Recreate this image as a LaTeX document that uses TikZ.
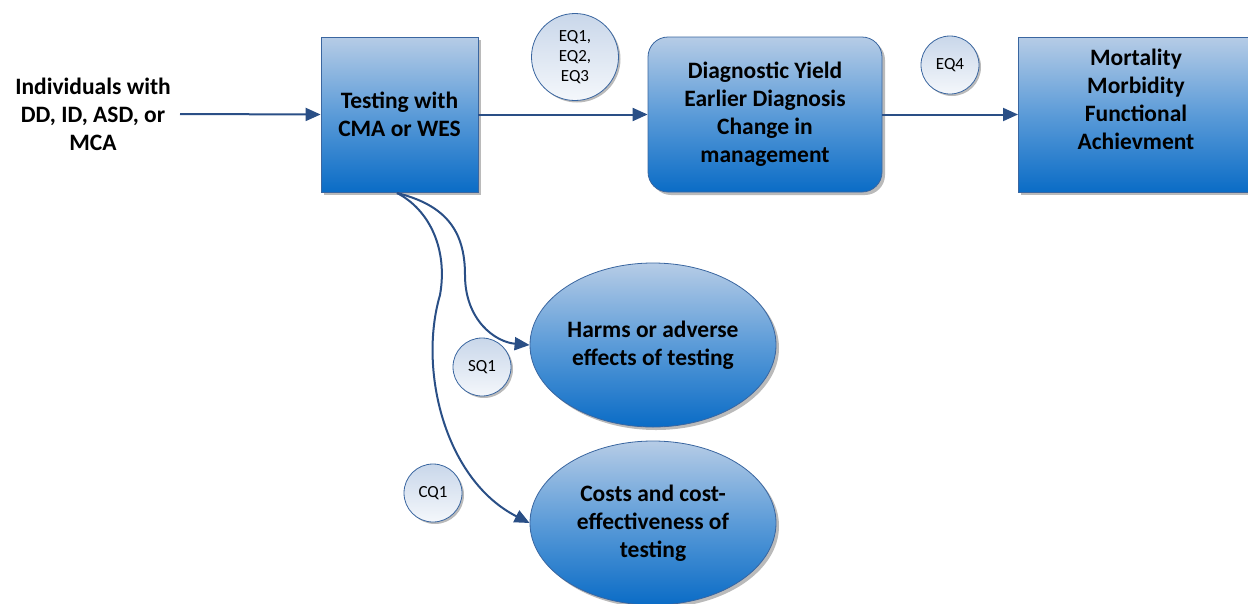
\documentclass[tikz,border=0pt]{standalone}
\usepackage{fontspec}
\setmainfont{Carlito}
\usetikzlibrary{shapes.geometric,arrows.meta,shadows}
\definecolor{lineblue}{HTML}{2A4F86}
\definecolor{topblue}{HTML}{B6CCE6}
\definecolor{midblue}{HTML}{5B9BD8}
\definecolor{botblue}{HTML}{0A6CC6}
\definecolor{edgeblue}{HTML}{3A66A0}
\definecolor{qtop}{HTML}{C9D7EA}
\definecolor{qbot}{HTML}{F4F7FB}
\tikzset{
  bigtext/.style={font=\bfseries\fontsize{23.5}{28}\selectfont, align=center},
  bluebox/.style={draw=edgeblue, line width=0.8pt, top color=topblue, bottom color=botblue, middle color=midblue,
    drop shadow={shadow xshift=3pt, shadow yshift=-3pt, fill=black!45, opacity=0.6},
    bigtext, inner sep=0pt},
  qcirc/.style={circle, draw=edgeblue, line width=0.8pt, top color=qtop, bottom color=qbot,
    drop shadow={shadow xshift=2pt, shadow yshift=-2pt, fill=black!45, opacity=0.6},
    font=\fontsize{17}{20}\selectfont, align=center, inner sep=0pt},
  conn/.style={draw=lineblue, line width=2pt, arrows={-Triangle[length=15pt,width=13pt]}},
}
\begin{document}
\begin{tikzpicture}[x=1pt,y=-1pt]
\useasboundingbox (0,0) rectangle (1248,603);
\node[bigtext] (ind) at (93,114) {Individuals with\\DD, ID, ASD, or\\MCA};
\node[bluebox, minimum width=157pt, minimum height=155pt] (test) at (399.5,114.5) {Testing with\\CMA or WES};
\node[bluebox, rounded corners=20pt, minimum width=234pt, minimum height=155pt] (diag) at (765,114.5) {Diagnostic Yield\\Earlier Diagnosis\\Change in\\management};
\node[bluebox, minimum width=236pt, minimum height=155pt, anchor=west] (mort) at (1018,114.5) {};
\node[bigtext] (morttext) at (1136,99) {Mortality\\Morbidity\\Functional\\Achievment};
\node[bluebox, ellipse, minimum width=246pt, minimum height=164pt] (harm) at (653,345) {Harms or adverse\\effects of testing};
\node[bluebox, ellipse, minimum width=246pt, minimum height=164pt] (cost) at (653,523) {Costs and cost-\\effectiveness of\\testing};
\node[qcirc, minimum size=87pt] (eq13) at (575,57) {EQ1,\\EQ2,\\EQ3};
\node[qcirc, minimum size=58pt] (eq4) at (950,65) {EQ4};
\node[qcirc, minimum size=58pt] (sq1) at (482,367) {SQ1};
\node[qcirc, minimum size=58pt] (cq1) at (433,493) {CQ1};
\coordinate (start) at (180,114);
\coordinate (tb) at (397,193);
\draw[conn] (start) -- (test.west);
\draw[conn] (test.east) -- (diag.west);
\draw[conn] (diag.east) -- (mort.west);
\draw[conn] (tb) .. controls (445,205) and (465,230) .. (465,275) .. controls (465,320) and (495,342) .. (harm.west);
\draw[conn] (tb) .. controls (430,210) and (448,250) .. (440,295) .. controls (418,370) and (445,480) .. (cost.west);
\end{tikzpicture}
\end{document}
